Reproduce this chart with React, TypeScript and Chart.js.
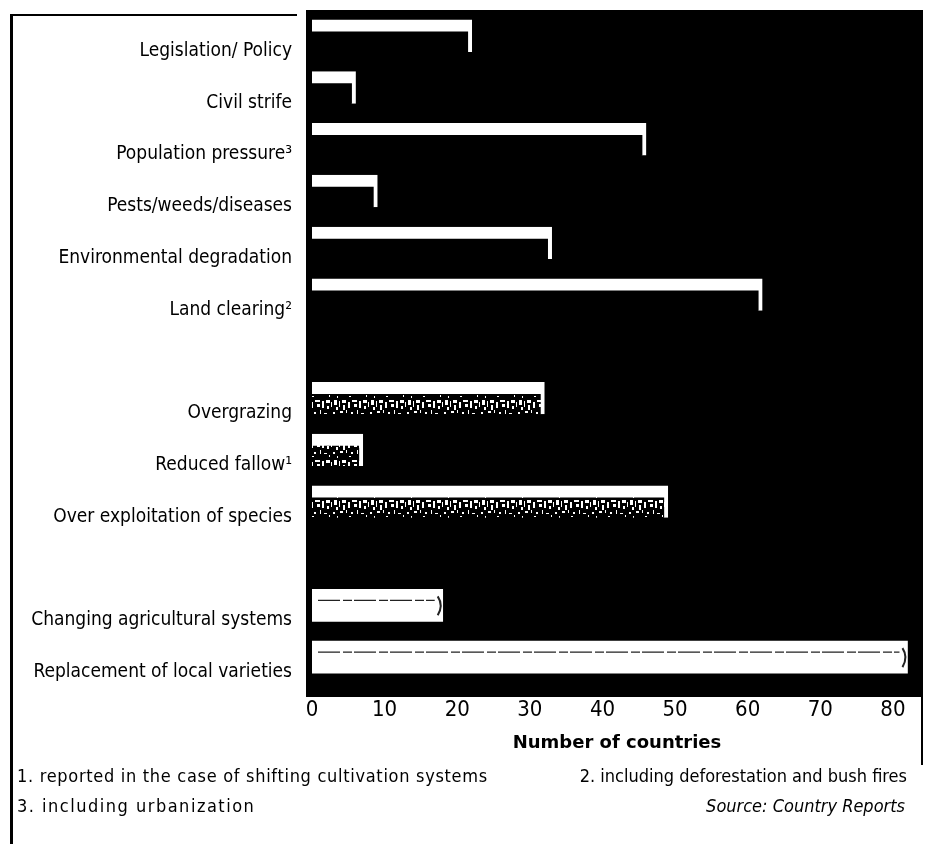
import React, { useEffect, useRef } from 'react';
import { Chart, registerables } from 'chart.js';

Chart.register(...registerables);

// ---- data ----
const categories = [
  'Legislation/ Policy',
  'Civil strife',
  'Population pressure³',
  'Pests/weeds/diseases',
  'Environmental degradation',
  'Land clearing²',
  '',
  'Overgrazing',
  'Reduced fallow¹',
  'Over exploitation of species',
  '',
  'Changing agricultural systems',
  'Replacement of local varieties',
];
const countries: (number | null)[] = [22, 6, 46, 9, 33, 62, null, 32, 7, 49, null, 18, 82];
const causeGroup: (number | null)[] = [0, 0, 0, 0, 0, 0, null, 1, 1, 1, null, 2, 2];
const xTickValues = [0, 10, 20, 30, 40, 50, 60, 70, 80];
const xMax = 84;
const xTitle = 'Number of countries';
const footnotes = [
  '1. reported in the case of shifting cultivation systems',
  '2. including deforestation and bush fires',
  '3. including urbanization',
];
const sourceText = 'Source: Country Reports';

const LABEL_FONT = "'Liberation Sans Narrow', 'DejaVu Sans Condensed', 'Arial Narrow', sans-serif";

function makeSpecklePattern(): CanvasPattern | string {
  const c = document.createElement('canvas');
  c.width = 37;
  c.height = 20;
  const g = c.getContext('2d');
  if (!g) return '#555';
  g.fillStyle = '#000';
  g.fillRect(0, 0, 37, 20);
  g.fillStyle = '#fff';
  const marks = [
    [1, 0, 3, 5], [6, 1, 1, 6], [9, 0, 4, 3], [15, 2, 2, 6], [19, 0, 5, 2], [26, 1, 2, 7],
    [30, 0, 4, 3], [35, 2, 1, 5], [3, 7, 2, 3], [10, 5, 2, 5], [21, 4, 3, 3], [31, 6, 2, 3],
    [0, 12, 2, 2], [7, 11, 3, 2], [13, 10, 1, 3], [18, 12, 2, 2], [24, 10, 1, 4], [28, 13, 3, 1],
    [4, 16, 1, 2], [16, 16, 2, 1], [33, 15, 1, 2],
  ];
  marks.forEach(([x, y, w, h]) => g.fillRect(x, y, w, h));
  const p = g.createPattern(c, 'repeat');
  return p || '#555';
}

const decoPlugin = {
  id: 'deco3d',
  beforeDatasetsDraw(chart: any) {
    const { ctx, chartArea: a } = chart;
    ctx.save();
    ctx.fillStyle = '#000';
    ctx.fillRect(a.left - 6, a.top, a.right - a.left + 6, a.bottom - a.top + 14);
    ctx.restore();
  },
  afterDatasetsDraw(chart: any) {
    const { ctx } = chart;
    const meta = chart.getDatasetMeta(0);
    meta.data.forEach((el: any, i: number) => {
      if (causeGroup[i] !== 2) return;
      const { x, y, base, height } = el.getProps(['x', 'y', 'base', 'height'], true);
      const top = y - height / 2;
      ctx.save();
      ctx.strokeStyle = '#222';
      ctx.lineWidth = 1.2;
      ctx.setLineDash([22, 3, 9, 2]);
      ctx.beginPath();
      ctx.moveTo(base + 6, top + 11);
      ctx.lineTo(x - 8, top + 11);
      ctx.stroke();
      ctx.setLineDash([]);
      ctx.lineWidth = 2;
      ctx.beginPath();
      ctx.moveTo(x - 5, top + 7);
      ctx.quadraticCurveTo(x + 1, top + height / 2, x - 5, top + height - 6);
      ctx.stroke();
      ctx.restore();
    });
  },
};

export default function App() {
  const ref = useRef<HTMLCanvasElement>(null);

  useEffect(() => {
    if (!ref.current) return;
    const speckle = makeSpecklePattern();
    const chart = new Chart(ref.current, {
      type: 'bar',
      data: {
        labels: categories,
        datasets: [
          {
            data: countries as any,
            barThickness: 32,
            borderSkipped: false,
            borderColor: '#fff',
            backgroundColor: (c: any) => {
              const g = causeGroup[c.dataIndex];
              if (g === 1) return speckle as any;
              if (g === 2) return '#fff';
              return '#000';
            },
            borderWidth: (c: any) => {
              const g = causeGroup[c.dataIndex];
              if (g === 2) return 0;
              return { top: 12, right: 4, bottom: 0, left: 0 } as any;
            },
          },
        ],
      },
      options: {
        indexAxis: 'y',
        animation: false,
        responsive: false,
        maintainAspectRatio: false,
        layout: { padding: { top: 10, right: 5, bottom: 86, left: 0 } },
        plugins: { legend: { display: false }, tooltip: { enabled: false } },
        scales: {
          x: {
            type: 'linear',
            min: 0,
            max: xMax,
            afterBuildTicks: (s: any) => {
              s.ticks = xTickValues.map((v) => ({ value: v }));
            },
            afterFit: (s: any) => {
              s.height = 75;
            },
            grid: { display: false, drawTicks: false },
            border: { display: false },
            ticks: {
              color: '#000',
              padding: 14,
              font: { family: LABEL_FONT, size: 22 },
            },
            title: {
              display: true,
              text: xTitle,
              color: '#000',
              font: { family: "'DejaVu Sans', sans-serif", size: 18, weight: 'bold' },
              padding: { top: 0, bottom: 4 },
            },
          },
          y: {
            type: 'category',
            offset: true,
            grid: { display: false, drawTicks: false },
            border: { display: false },
            afterFit: (s: any) => {
              s.width = 312;
              s.paddingTop = 0;
              s.paddingBottom = 0;
            },
            ticks: {
              color: '#000',
              padding: 20,
              labelOffset: 15,
              autoSkip: false,
              font: { family: LABEL_FONT, size: 19 },
            },
          },
        },
      } as any,
      plugins: [decoPlugin],
    });
    return () => chart.destroy();
  }, []);

  const note: React.CSSProperties = {
    position: 'absolute',
    fontFamily: LABEL_FONT,
    fontSize: 18,
    letterSpacing: '0.7px',
    color: '#000',
    whiteSpace: 'nowrap',
    lineHeight: '20px',
  };

  return (
    <div style={{ position: 'fixed', left: 0, top: 0, width: 927, height: 844, background: '#fff', overflow: 'hidden' }}>
      <canvas ref={ref} width={927} height={844} style={{ display: 'block', position: 'absolute', left: 0, top: 0 }} />
      <div style={{ position: 'absolute', left: 10, top: 14, width: 287, height: 0, borderTop: '2px solid #000' }} />
      <div style={{ position: 'absolute', left: 10, top: 14, width: 0, height: 840, borderLeft: '3px solid #000' }} />
      <div style={{ position: 'absolute', left: 921, top: 10, width: 0, height: 755, borderLeft: '2px solid #000' }} />
      <div style={{ ...note, left: 17, top: 766 }}>{footnotes[0]}</div>
      <div style={{ ...note, right: 20, top: 766, letterSpacing: '0px' }}>{footnotes[1]}</div>
      <div style={{ ...note, left: 17, top: 796, letterSpacing: '1.5px' }}>{footnotes[2]}</div>
      <div style={{ ...note, right: 22, top: 796, fontStyle: 'italic', fontSize: 18, letterSpacing: '0px' }}>{sourceText}</div>
    </div>
  );
}
